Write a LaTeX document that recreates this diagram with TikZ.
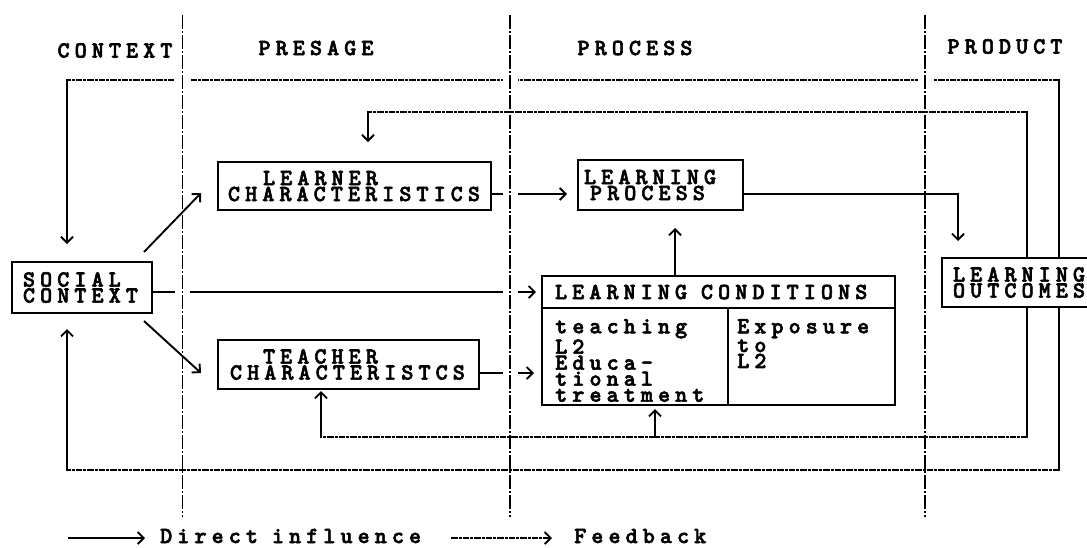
\documentclass[tikz,border=0pt]{standalone}
\usepackage{fontspec}
\usetikzlibrary{arrows.meta,calc}
\newfontfamily\dotfont{lmmonolt10-bold.otf}[LetterSpace=22, FakeBold=2.5]
\hyphenpenalty=10000
\uchyph=0
\pgfdeclarelayer{back}
\pgfsetlayers{back,main}
\tikzset{
  txt/.style={font=\dotfont\fontsize{23}{16}\selectfont, inner sep=0pt},
  box/.style={txt, draw, line width=2pt, fill=white, align=left, inner ysep=0pt},
  tip/.style={-{Straight Barb[length=6pt,width=12pt]}},
  link/.style={line width=1.9pt, tip},
  fb/.style={line width=1.8pt, line cap=rect, dash pattern=on 5pt off 2.5pt on 1.5pt off 2.5pt},
  fbv/.style={line width=1.9pt, line cap=rect},
  divider/.style={line width=1.7pt, dash pattern=on 14pt off 2pt on 2pt off 2pt,
    preaction={draw=white, solid, line width=15pt}}
}
\begin{document}
\begin{tikzpicture}[x=1pt,y=-1pt]
\useasboundingbox (0,0) rectangle (1087,547);

% column headings
\node[txt] (hcontext) at (115,50.5) {CONTEXT};
\node[txt] (hpresage) at (316,48) {PRESAGE};
\node[txt] (hprocess) at (635,48) {PROCESS};
\node[txt] (hproduct) at (1005,46.5) {PRODUCT};

% boxes
\node[box, text width=118pt, inner xsep=11pt, minimum height=51pt] (social) at (82,287.5) {SOCIAL\\CONTEXT};
\node[box, text width=253pt, inner xsep=10pt, minimum height=48pt] (learner) at (354.5,186) {\hspace*{35pt}LEARNER\\CHARACTERISTICS};
\node[box, text width=237pt, inner xsep=12pt, minimum height=49pt] (teacher) at (348.5,364.5) {\hspace*{33pt}TEACHER\\CHARACTERISTCS};
\node[box, text width=153pt, inner xsep=6pt, minimum height=50pt] (process) at (660.5,185) {LEARNING\\\hspace*{6pt}PROCESS};
\node[box, text width=131pt, inner xsep=11pt, minimum height=49pt] (outcomes) at (1018.5,282.5) {LEARNING\\OUTCOMES};
\node[box, minimum width=353pt, minimum height=129pt] (cond) at (718.5,340.5) {};
\node[box, text width=327pt, inner xsep=13pt, minimum height=32pt] (condhead) at (718.5,292) {LEARNING\hspace*{14pt}CONDITIONS};
\coordinate (colx) at (728,0);
\draw[line width=2pt] (condhead.south -| colx) -- (cond.south -| colx);
\node[txt, anchor=north west, align=left] (condteach) at (555,319) {teaching\\L2\\Educa-\\tional\\treatment};
\node[txt, anchor=north west, align=left] (condexp) at (737,319) {Exposure\\to\\L2};

% legend
\coordinate (la1) at (68,538);
\coordinate (la2) at (145,538);
\coordinate (lb1) at (452,538);
\coordinate (lb2) at (552,538);
\node[txt, anchor=base west] (ldirect) at (160,543) {Direct\hspace*{14pt}influence};
\node[txt, anchor=base west] (lfeed) at (574,543) {Feedback};

% feedback corners
\coordinate (fbA) at (67,80);
\coordinate (fbB) at (1059,80);
\coordinate (fbC) at (1059,470);
\coordinate (fbD) at (67,470);
\coordinate (fbE) at (368,112);
\coordinate (fbF) at (1027,112);
\coordinate (fbG) at (1027,437);
\coordinate (fbH) at (321,437);
\coordinate (fbI) at (655,437);

% stage dividers
\coordinate (d1t) at (182.5,15);  \coordinate (d1b) at (182.5,517);
\coordinate (d2t) at (510,15);    \coordinate (d2b) at (510,517);
\coordinate (d3t) at (925,15);    \coordinate (d3b) at (925,517);
\coordinate (upx) at (675,0);
\coordinate (dnx) at (958,0);

\begin{pgfonlayer}{back}
  % lines broken where they pass a divider
  \draw[link, shorten >=5pt] (social.east |- condhead) -- (condhead.west);
  \draw[link, shorten >=10pt] ($(learner.east)+(0,8)$) -- ($(process.west |- learner.east)+(0,8)$);
  \draw[link, shorten >=7pt] ($(teacher.east)+(0,8.5)$) -- ($(cond.west |- teacher.east)+(0,8.5)$);
  \draw[fb] (fbB) -- (fbA);

  % dividers
  \draw[divider] (d1t) -- (d1b);
  \draw[divider] (d2t) -- (d2b);
  \draw[divider] (d3t) -- (d3b);

  % direct influences
  \draw[link] ($(social.north east)+(-9,-9)$) -- ($(learner.west)+(-16,7)$);
  \draw[link] ($(social.south east)+(-9,7)$) -- ($(teacher.west)+(-16,8.5)$);
  \draw[link, shorten >=17pt] (condhead.north -| upx) -- (process.south -| upx);
  \draw[link, shorten >=16pt] ($(process.east)+(0,9)$) -| (outcomes.north -| dnx);

  % outer feedback loop
  \draw[fbv] (outcomes.north -| fbB) -- (fbB);
  \draw[fbv] (outcomes.south -| fbC) -- (fbC);
  \draw[fbv, tip, shorten >=17pt] (fbA) -- (fbA |- social.north);
  \draw[fb] (fbC) -- (fbD);
  \draw[fbv, tip, shorten >=15pt] (fbD) -- (fbD |- social.south);

  % inner feedback loop
  \draw[fbv] (outcomes.north -| fbF) -- (fbF);
  \draw[fb] (fbF) -- (fbE);
  \draw[fbv, tip, shorten >=19pt] (fbE) -- (fbE |- learner.north);
  \draw[fbv] (outcomes.south -| fbG) -- (fbG);
  \draw[fb] (fbG) -- (fbI);
  \draw[fbv, tip, shorten >=3pt] (fbI) -- (fbI |- cond.south);
  \draw[fb] (fbI) -- (fbH);
  \draw[fbv, tip, shorten >=1pt] (fbH) -- (fbH |- teacher.south);

  % legend lines
  \draw[link] (la1) -- (la2);
  \draw[fb, tip] (lb1) -- (lb2);
\end{pgfonlayer}
\end{tikzpicture}
\end{document}
